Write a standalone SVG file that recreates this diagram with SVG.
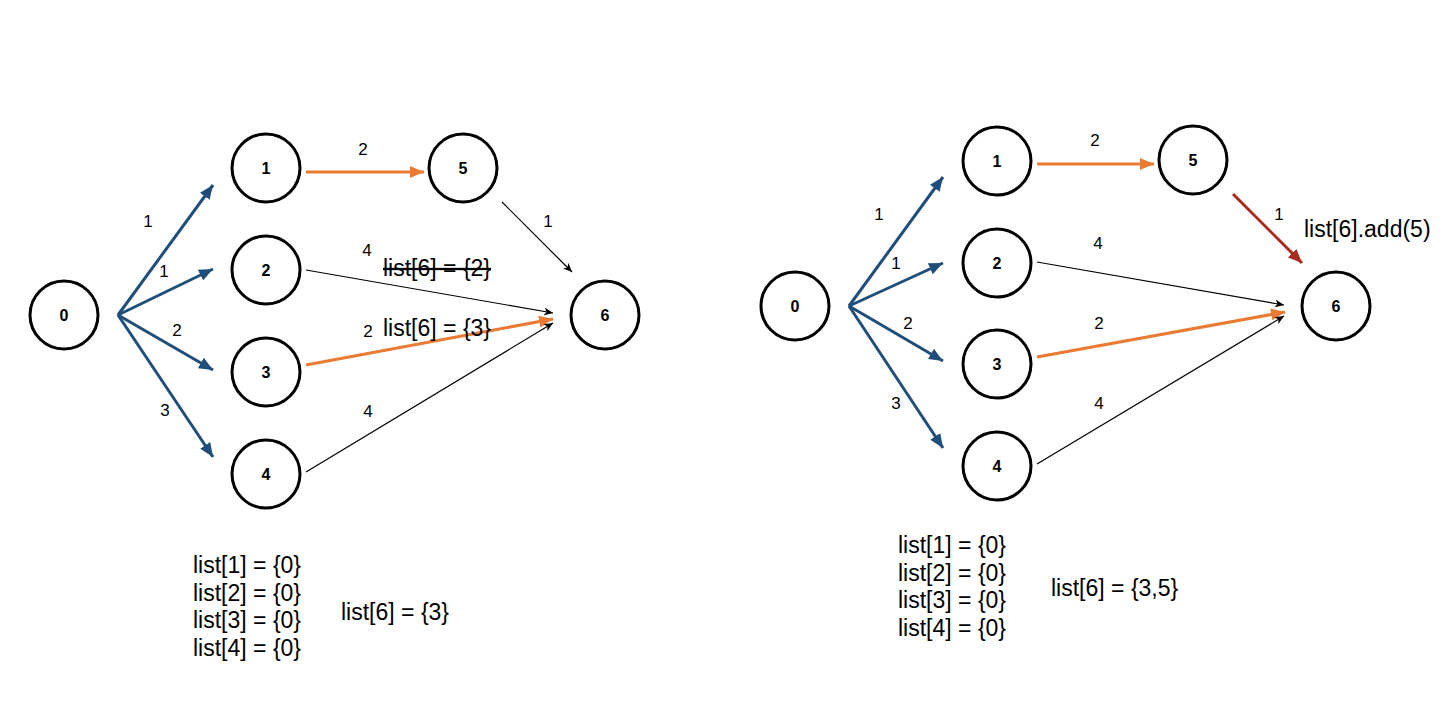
<svg xmlns="http://www.w3.org/2000/svg" width="1454" height="710" viewBox="0 0 1454 710">
<style>
.node circle{fill:#fff;stroke:#000;stroke-width:3}
.node text{font-family:"Liberation Sans",Arial,sans-serif;font-size:16px;font-weight:bold;text-anchor:middle}
.lbl{font-family:"Liberation Sans",Arial,sans-serif;font-size:17px;text-anchor:middle;fill:#000}
.big{font-family:"Liberation Sans",Arial,sans-serif;font-size:23px;fill:#000}
.blue{stroke:#1F4E7A;stroke-width:3;fill:none;marker-end:url(#mb)}
.orange{stroke:#EB7B32;stroke-width:3;fill:none;marker-end:url(#mo)}
.red{stroke:#A82C1E;stroke-width:3;fill:none;marker-end:url(#mr)}
.thin{stroke:#000;stroke-width:1.2;fill:none;marker-end:url(#mk)}
</style>
<defs>
<marker id="mb" markerUnits="userSpaceOnUse" viewBox="0 0 14 12" refX="14" refY="6" markerWidth="14" markerHeight="12" orient="auto"><path d="M0,0 L14,6 L0,12 Z" fill="#1F4E7A"/></marker>
<marker id="mo" markerUnits="userSpaceOnUse" viewBox="0 0 14 12" refX="14" refY="6" markerWidth="14" markerHeight="12" orient="auto"><path d="M0,0 L14,6 L0,12 Z" fill="#EB7B32"/></marker>
<marker id="mr" markerUnits="userSpaceOnUse" viewBox="0 0 14 12" refX="14" refY="6" markerWidth="14" markerHeight="12" orient="auto"><path d="M0,0 L14,6 L0,12 Z" fill="#A82C1E"/></marker>
<marker id="mk" markerUnits="userSpaceOnUse" viewBox="0 0 9 8" refX="9" refY="4" markerWidth="9" markerHeight="8" orient="auto"><path d="M0,0 L9,4 L0,8 L2.5,4 Z" fill="#000"/></marker>
</defs>
<rect width="1454" height="710" fill="#fff"/>

<g id="connectors">
<!-- left graph -->
<line class="blue" x1="118" y1="315" x2="213" y2="185"/>
<line class="blue" x1="118" y1="315" x2="213" y2="269"/>
<line class="blue" x1="118" y1="315" x2="213" y2="370"/>
<line class="blue" x1="118" y1="315" x2="213" y2="457"/>
<line class="orange" x1="306" y1="172" x2="424" y2="172"/>
<line class="thin" x1="502" y1="202" x2="572" y2="272"/>
<line class="thin" x1="306" y1="270" x2="553" y2="313"/>
<line class="orange" x1="306" y1="365" x2="553" y2="319"/>
<line class="thin" x1="306" y1="472" x2="553" y2="323"/>
<!-- right graph -->
<line class="blue" x1="849" y1="306" x2="943" y2="177"/>
<line class="blue" x1="849" y1="306" x2="943" y2="263"/>
<line class="blue" x1="849" y1="306" x2="943" y2="361"/>
<line class="blue" x1="849" y1="306" x2="943" y2="448"/>
<line class="orange" x1="1037" y1="164" x2="1154" y2="164"/>
<line class="red" x1="1233" y1="194" x2="1302" y2="263"/>
<line class="thin" x1="1037" y1="262" x2="1284" y2="305"/>
<line class="orange" x1="1037" y1="357" x2="1285" y2="312"/>
<line class="thin" x1="1037" y1="464" x2="1284" y2="316"/>
<!-- edge labels left -->
<text class="lbl" x="148" y="227">1</text>
<text class="lbl" x="164" y="277">1</text>
<text class="lbl" x="177" y="336">2</text>
<text class="lbl" x="165" y="416">3</text>
<text class="lbl" x="363" y="155">2</text>
<text class="lbl" x="548" y="227">1</text>
<text class="lbl" x="367" y="256">4</text>
<text class="lbl" x="368" y="337">2</text>
<text class="lbl" x="368" y="417">4</text>
<!-- edge labels right -->
<text class="lbl" x="879" y="220">1</text>
<text class="lbl" x="896" y="269">1</text>
<text class="lbl" x="908" y="329">2</text>
<text class="lbl" x="896" y="409">3</text>
<text class="lbl" x="1095" y="146">2</text>
<text class="lbl" x="1279" y="220">1</text>
<text class="lbl" x="1098" y="249">4</text>
<text class="lbl" x="1099" y="329">2</text>
<text class="lbl" x="1099" y="409">4</text>
</g>

<g id="node-L0" class="node"><circle cx="64" cy="315" r="34"/><text x="64" y="321">0</text></g>
<g id="node-L1" class="node"><circle cx="266" cy="168" r="34"/><text x="266" y="174">1</text></g>
<g id="node-L2" class="node"><circle cx="266" cy="270" r="34"/><text x="266" y="276">2</text></g>
<g id="node-L3" class="node"><circle cx="266" cy="372" r="34"/><text x="266" y="378">3</text></g>
<g id="node-L4" class="node"><circle cx="266" cy="474" r="34"/><text x="266" y="480">4</text></g>
<g id="node-L5" class="node"><circle cx="463" cy="168" r="34"/><text x="463" y="174">5</text></g>
<g id="node-L6" class="node"><circle cx="605" cy="315" r="34"/><text x="605" y="321">6</text></g>

<g id="node-R0" class="node"><circle cx="795" cy="306" r="34"/><text x="795" y="312">0</text></g>
<g id="node-R1" class="node"><circle cx="997" cy="161" r="34"/><text x="997" y="167">1</text></g>
<g id="node-R2" class="node"><circle cx="997" cy="263" r="34"/><text x="997" y="269">2</text></g>
<g id="node-R3" class="node"><circle cx="997" cy="364" r="34"/><text x="997" y="370">3</text></g>
<g id="node-R4" class="node"><circle cx="997" cy="466" r="34"/><text x="997" y="472">4</text></g>
<g id="node-R5" class="node"><circle cx="1193" cy="160" r="34"/><text x="1193" y="166">5</text></g>
<g id="node-R6" class="node"><circle cx="1336" cy="306" r="34"/><text x="1336" y="312">6</text></g>

<g id="notes">
<text class="big" x="383" y="276" text-decoration="line-through">list[6] = {2}</text>
<text class="big" x="383" y="336">list[6] = {3}</text>
<text class="big" x="193" y="573">list[1] = {0}</text>
<text class="big" x="193" y="601">list[2] = {0}</text>
<text class="big" x="193" y="628">list[3] = {0}</text>
<text class="big" x="193" y="656">list[4] = {0}</text>
<text class="big" x="341" y="620">list[6] = {3}</text>
<text class="big" x="1304" y="237">list[6].add(5)</text>
<text class="big" x="898" y="553">list[1] = {0}</text>
<text class="big" x="898" y="581">list[2] = {0}</text>
<text class="big" x="898" y="608">list[3] = {0}</text>
<text class="big" x="898" y="636">list[4] = {0}</text>
<text class="big" x="1051" y="596">list[6] = {3,5}</text>
</g>
</svg>
